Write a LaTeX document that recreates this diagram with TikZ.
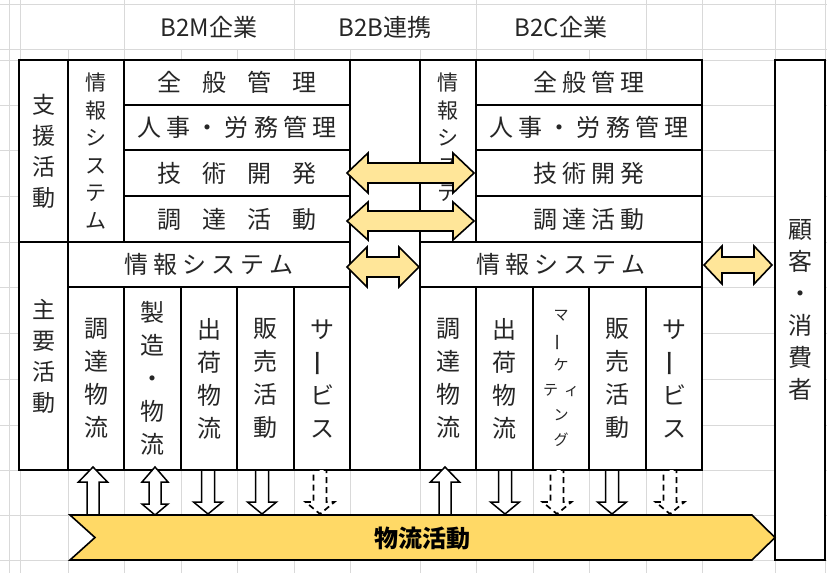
\documentclass[tikz,border=0pt]{standalone}
\usepackage{fontspec}
\setmainfont{Noto Sans CJK JP}
\usetikzlibrary{calc}
\definecolor{gridc}{HTML}{D9D9D9}
\definecolor{ayel}{HTML}{FFE699}
\definecolor{chev}{HTML}{FFD966}
\definecolor{txt}{HTML}{262626}
\makeatletter
\def\trk#1#2{\begingroup\def\trk@amt{#1}\trk@loop#2\relax\unskip\endgroup}
\def\trk@loop#1{\ifx\relax#1\else#1\hskip\trk@amt\relax\expandafter\trk@loop\fi}
\makeatother
\tikzset{
 gridln/.style={draw=gridc, line width=0.9pt},
 cellst/.style={draw=black, line width=1.5pt, inner sep=0pt, outer sep=0pt, text=txt, font=\fontsize{24}{28}\selectfont},
 vst/.style={cellst, font=\fontsize{23}{31}\selectfont, align=center},
 vsub/.style={cellst, font=\fontsize{24}{33}\selectfont, align=center},
 vinfo/.style={cellst, font=\fontsize{21}{27.5}\selectfont, align=center},
 choon/.style={rotate=90, inner sep=0pt, text=txt, font=\fontsize{28}{30}\selectfont},
 hdr/.style={text=txt, font=\fontsize{24}{28}\selectfont, inner sep=0pt},
 ya/.style={draw=black, line width=1.6pt, fill=ayel, line join=miter},
 wa/.style={draw=black, line width=1.5pt, fill=white, line join=miter},
 wad/.style={wa, line width=1.7pt, dash pattern=on 6pt off 4pt},
}
\newcommand\cellbox[7][]{\node[cellst,#1,minimum width={(#5-#3)*1pt},minimum height={(#6-#4)*1pt}] (#2) at ({(#3+#5)/2},{(#4+#6)/2}) {#7};}
% horizontal double block arrow: x1 x2 y headlen headhalf shafthalf
\newcommand\hdarrow[6]{\draw[ya] (#1,#3) -- (#1+#4,#3-#5) -- (#1+#4,#3-#6) -- (#2-#4,#3-#6) -- (#2-#4,#3-#5) -- (#2,#3) -- (#2-#4,#3+#5) -- (#2-#4,#3+#6) -- (#1+#4,#3+#6) -- (#1+#4,#3+#5) -- cycle;}
\newcommand\uparr[1]{\draw[wa] (#1,467) -- (#1+14.5,482) -- (#1+6,482) -- (#1+6,515) -- (#1-6,515) -- (#1-6,482) -- (#1-14.5,482) -- cycle;}
\newcommand\dnarr[2][wa]{\draw[#1] (#2-6.5,470) -- (#2+6.5,470) -- (#2+6.5,502) -- (#2+14.5,502) -- (#2,514) -- (#2-14.5,502) -- (#2-6.5,502) -- cycle;}
\newcommand\udarr[1]{\draw[wa] (#1,467) -- (#1+13,482) -- (#1+6,482) -- (#1+6,504) -- (#1+13,504) -- (#1,515) -- (#1-13,504) -- (#1-6,504) -- (#1-6,482) -- (#1-13,482) -- cycle;}
\begin{document}
\begin{tikzpicture}[x=1pt,y=-1pt]
\useasboundingbox (0,0) rectangle (827,573);
\fill[white] (0,0) rectangle (827,573);
% spreadsheet grid
\foreach \yy in {4,49,60,105,150,196,242,287,333,379,425,470,515,560}
  \draw[gridln] (0,\yy) -- (827,\yy);
\foreach \xx in {9,20,124,294,476,646,702,775,825}
  \draw[gridln] (\xx,0) -- (\xx,573);
\foreach \xx in {68,181,237,350,420,533,589}
  \draw[gridln] (\xx,49) -- (\xx,573);
% header labels
\node[hdr] (hb2m) at (209,27) {B2M企業};
\node[hdr] (hb2b) at (385,27) {B2B連携};
\node[hdr] (hb2c) at (561,27) {B2C企業};
% panel background
\fill[white] (19,60) rectangle (702,470);
\fill[white] (775,60) rectangle (825,560);
% B2M enterprise
\cellbox[vst]{sup1}{19}{60}{68}{242}{支\\援\\活\\動}
\cellbox[vinfo]{is1}{68}{60}{124}{242}{情\\報\\シ\\ス\\テ\\ム}
\cellbox{gen1}{124}{60}{350}{105}{\trk{20.7pt}{全般管理}}
\cellbox{hr1}{124}{105}{350}{150}{\trk{5.3pt}{人事・労務管理}}
\cellbox{tech1}{124}{150}{350}{196}{\trk{20.7pt}{技術開発}}
\cellbox{proc1}{124}{196}{350}{242}{\trk{20.7pt}{調達活動}}
\cellbox[vst]{main1}{19}{242}{68}{470}{主\\要\\活\\動}
\cellbox{isbar1}{68}{242}{350}{287}{\trk{5pt}{情報システム}}
\cellbox[vsub]{p1a}{68}{287}{124}{470}{調\\達\\物\\流}
\cellbox[vsub]{p1b}{124}{287}{181}{470}{製\\造\\・\\物\\流}
\cellbox[vsub]{p1c}{181}{287}{237}{470}{出\\荷\\物\\流}
\cellbox[vsub]{p1d}{237}{287}{294}{470}{販\\売\\活\\動}
\cellbox[vsub]{p1e}{294}{287}{350}{470}{サ\\\phantom{サ}\\ビ\\ス}
\node[choon] (p1ech) at (322,363) {ー};
% B2B column
\cellbox{b2b}{350}{60}{420}{470}{}
% B2C enterprise
\cellbox[vinfo]{is2}{420}{60}{476}{242}{情\\報\\シ\\ス\\テ\\ム}
\cellbox{gen2}{476}{60}{702}{105}{\trk{5.3pt}{全般管理}}
\cellbox{hr2}{476}{105}{702}{150}{\trk{5.3pt}{人事・労務管理}}
\cellbox{tech2}{476}{150}{702}{196}{\trk{5.3pt}{技術開発}}
\cellbox{proc2}{476}{196}{702}{242}{\trk{5.3pt}{調達活動}}
\cellbox{isbar2}{420}{242}{702}{287}{\trk{5pt}{情報システム}}
\cellbox[vsub]{p2a}{420}{287}{476}{470}{調\\達\\物\\流}
\cellbox[vsub]{p2b}{476}{287}{533}{470}{出\\荷\\物\\流}
\cellbox[vsub,font=\fontsize{15}{25}\selectfont]{p2c}{533}{287}{589}{470}{マ\\\phantom{マ}\\ケ\\テ\hskip6ptィ\\ン\\グ}
\node[choon, font=\fontsize{18}{20}\selectfont] (p2cch) at (561,342) {ー};
\cellbox[vsub]{p2d}{589}{287}{646}{470}{販\\売\\活\\動}
\cellbox[vsub]{p2e}{646}{287}{702}{470}{サ\\\phantom{サ}\\ビ\\ス}
\node[choon] (p2ech) at (674,363) {ー};
% customer
\cellbox[vsub,font=\fontsize{24}{32}\selectfont]{cust}{775}{60}{825}{560}{顧\\客\\・\\消\\費\\者}
% B2B links
\hdarrow{347}{474}{173}{21}{20}{10}
\hdarrow{347}{474}{221}{21}{19}{10}
\hdarrow{347}{419}{267}{20}{20}{10}
\hdarrow{704}{772}{265}{18}{19}{8}
% vertical arrows to logistics
\uparr{93}
\udarr{155}
\dnarr{208}
\dnarr{262}
\dnarr[wad]{320}
\uparr{445}
\dnarr{505}
\dnarr[wad]{557}
\dnarr{612}
\dnarr[wad]{670}
% logistics chevron
\draw[line width=1.6pt, fill=chev, line join=miter] (70,515) -- (752,515) -- (775,537.5) -- (752,560) -- (70,560) -- (95,537.5) -- cycle;
\node[text=black, font=\bfseries\fontsize{24}{28}\selectfont, inner sep=0pt] (flow) at (422,538) {物流活動};
\end{tikzpicture}
\end{document}
